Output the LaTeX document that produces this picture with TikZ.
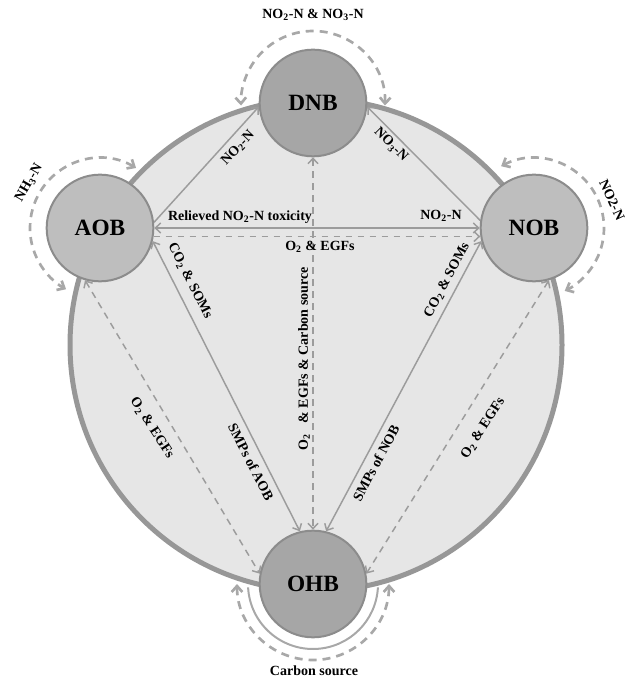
\documentclass[tikz,border=0pt]{standalone}
\usepackage{fontspec}
\setmainfont{Liberation Serif}
\usetikzlibrary{arrows.meta}
\pgfdeclarelayer{bg}
\pgfdeclarelayer{mid}
\pgfsetlayers{bg,mid,main}
\definecolor{ringfill}{HTML}{E6E6E6}
\definecolor{ringline}{HTML}{979797}
\definecolor{lightnode}{HTML}{BEBEBE}
\definecolor{darknode}{HTML}{A6A6A6}
\definecolor{nodeline}{HTML}{8C8C8C}
\definecolor{conncol}{HTML}{9C9C9C}
\definecolor{loopcol}{HTML}{A8A8A8}
\tikzset{
  bact/.style={circle, minimum size=80pt, inner sep=0pt, draw=nodeline, line width=1.5pt,
    font=\fontsize{17.5}{19}\selectfont\bfseries},
  lite/.style={bact, fill=lightnode},
  dark/.style={bact, fill=darknode},
  lab/.style={font=\fontsize{10.5}{12}\selectfont\bfseries, inner sep=0pt},
  conn/.style={draw=conncol, line width=1.1pt, >={Straight Barb[length=4pt,width=7.5pt]}},
  dconn/.style={conn, dash pattern=on 5pt off 4pt},
  loopline/.style={draw=loopcol, line width=2pt, dash pattern=on 6pt off 4.5pt,
    >={Straight Barb[length=4.5pt,width=8pt]}},
  innerloop/.style={draw=loopcol, line width=1.5pt}
}
\begin{document}
\begin{tikzpicture}[x=0.75pt,y=0.75pt]
\useasboundingbox (0,0) rectangle (630,678);
\begin{pgfonlayer}{bg}
  \draw[fill=ringfill, draw=ringline, line width=3.75pt] (316,333) circle[radius=184.5pt];
\end{pgfonlayer}

\node[lite] (AOB) at (100,450) {AOB};
\node[lite] (NOB) at (534,450) {NOB};
\node[dark] (DNB) at (313,575) {DNB};
\node[dark] (OHB) at (313,94) {OHB};

\begin{pgfonlayer}{mid}
  % self loops
  \draw[loopline,<->] ([shift={(-2:54pt)}]DNB.center) arc[start angle=-2, end angle=182, radius=54pt];
  \draw[loopline,<->] ([shift={(59:52.5pt)}]AOB.center) arc[start angle=59, end angle=241, radius=52.5pt];
  \draw[loopline,<->] ([shift={(118:52.5pt)}]NOB.center) arc[start angle=118, end angle=-64, radius=52.5pt];
  \draw[loopline,<->] ([shift={(180:57pt)}]OHB.center) arc[start angle=180, end angle=360, radius=57pt];
  \draw[innerloop] ([shift={(183:48.75pt)}]OHB.center) arc[start angle=183, end angle=357, radius=48.75pt];
  % connectors
  \draw[conn,->] (AOB.6) -- (DNB.184);
  \draw[conn,->] (NOB.172) -- (DNB.-4);
  \draw[conn,<->] (AOB.0) -- (NOB.180);
  \draw[dconn,->] (AOB.-9) -- (NOB.189);
  \draw[dconn,<->] (DNB.270) -- (OHB.90);
  \draw[conn,<->] (AOB.-14) -- (OHB.104);
  \draw[conn,<->] (NOB.194) -- (OHB.76);
  \draw[dconn,<->] (AOB.254) -- (OHB.169);
  \draw[dconn,<->] (NOB.286) -- (OHB.11);
\end{pgfonlayer}

% labels
\node[lab] (ltop) at (313,663) {NO\textsubscript{2}-N \& NO\textsubscript{3}-N};
\node[lab, rotate=60] (lnh) at (29,495) {NH\textsubscript{3}-N};
\node[lab, rotate=-65] (lno) at (612,478) {NO2-N};
\node[lab] (lcs) at (314,7) {Carbon source};
\node[lab, rotate=47] (lad) at (238,530) {NO\textsubscript{2}-N};
\node[lab, rotate=-45] (lnd) at (391,533) {NO\textsubscript{3}-N};
\node[lab] (lrel) at (240,461) {Relieved NO\textsubscript{2}-N toxicity};
\node[lab] (lan) at (441,462) {NO\textsubscript{2}-N};
\node[lab] (loe) at (320,431) {O\textsubscript{2} \& EGFs};
\node[lab, rotate=90] (lvert) at (304,319) {O\textsubscript{2}\hspace{0.8em}\& EGFs \& Carbon source};
\node[lab, rotate=-63] (lcsl) at (190,397) {CO\textsubscript{2} \& SOMs};
\node[lab, rotate=-63] (lsa) at (251,216) {SMPs of AOB};
\node[lab, rotate=62] (lcsr) at (447,398) {CO\textsubscript{2} \& SOMs};
\node[lab, rotate=62] (lsn) at (376,215) {SMPs of NOB};
\node[lab, rotate=-57] (loel) at (152,250) {O\textsubscript{2} \& EGFs};
\node[lab, rotate=57] (loer) at (483,250) {O\textsubscript{2} \& EGFs};
\end{tikzpicture}
\end{document}
